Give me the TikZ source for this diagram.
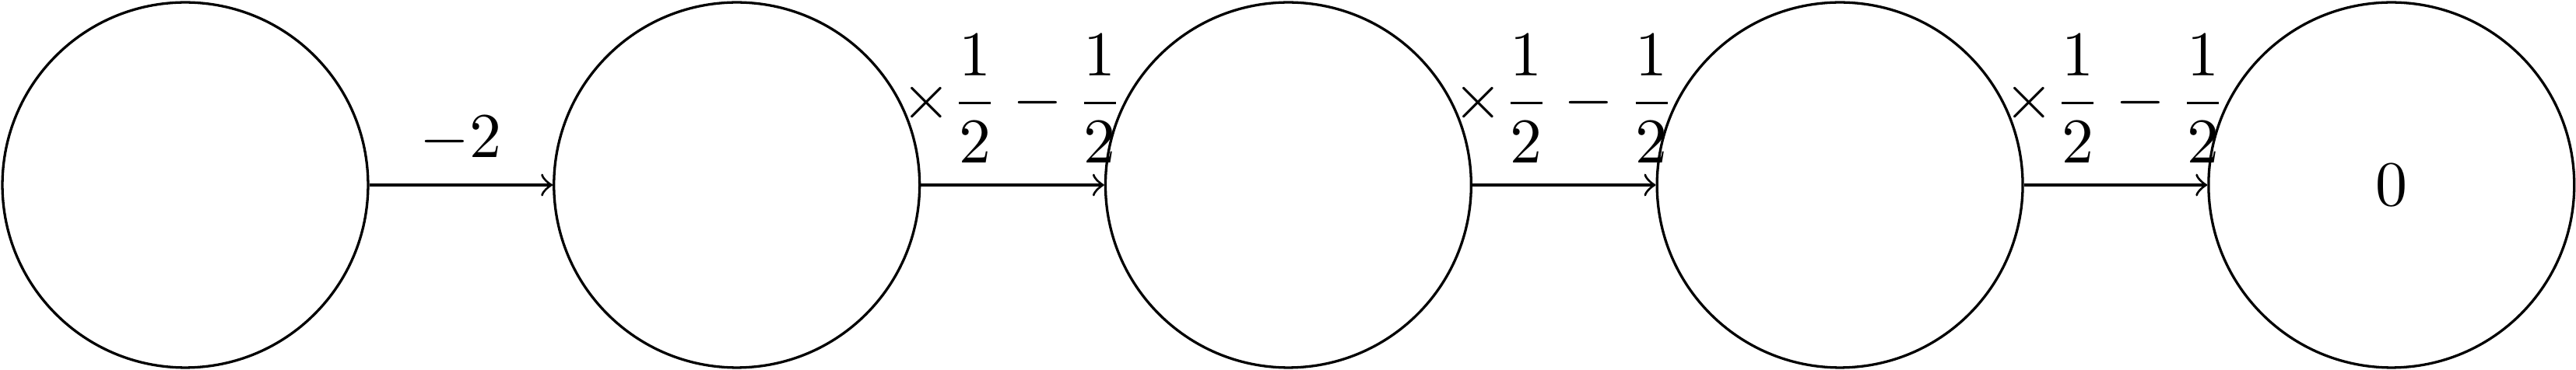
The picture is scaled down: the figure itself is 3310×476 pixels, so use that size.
\documentclass[tikz,border=0pt]{standalone}
\usepackage{amsmath}
\begin{document}
\begin{tikzpicture}[x=0.12195pt,y=0.12195pt,
  state/.style={draw,circle,line width=0.4pt,minimum size=57.3pt,inner sep=0pt},
  edge/.style={->,line width=0.4pt},
  lab/.style={above}]
\useasboundingbox (0,0) rectangle (3310,476);
\node[state] (c1) at (238,238) {};
\node[state] (c2) at (946.7,238) {};
\node[state] (c3) at (1655.4,238) {};
\node[state] (c4) at (2364.1,238) {};
\node[state] (c5) at (3072.8,238) {$0$};
\draw[edge] (c1) -- node[lab] {$-2$} (c2);
\draw[edge] (c2) -- node[lab] {$\times\dfrac{1}{2}-\dfrac{1}{2}$} (c3);
\draw[edge] (c3) -- node[lab] {$\times\dfrac{1}{2}-\dfrac{1}{2}$} (c4);
\draw[edge] (c4) -- node[lab] {$\times\dfrac{1}{2}-\dfrac{1}{2}$} (c5);
\end{tikzpicture}
\end{document}
